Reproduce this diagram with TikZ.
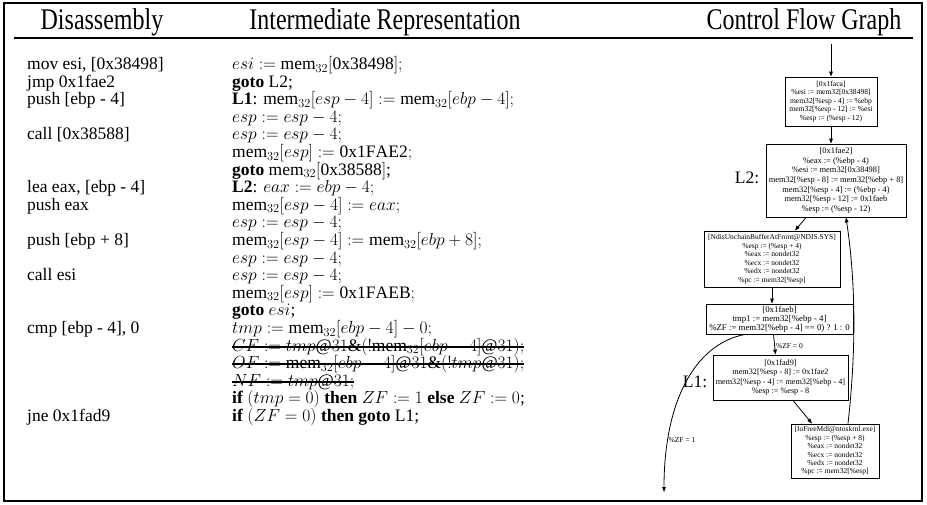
\RequirePackage{fix-cm}
\documentclass[tikz,border=0pt]{standalone}
\usepackage{graphicx}
\usepackage{fontspec}
\setmainfont{Liberation Serif}
\usetikzlibrary{arrows.meta,positioning}
\newcommand\bodyfont{\fontsize{17.5}{17.6}\selectfont}
\newcommand\headfont{\fontsize{24}{26}\selectfont}
\newcommand\memw{\mathrm{mem}_{32}}
\newcommand\headtext[1]{\scalebox{1}[1.25]{#1}}

\begin{document}
\begin{tikzpicture}[x=1pt,y=-1pt,
    hdr/.style={anchor=base,inner sep=0pt,font=\headfont},
    row/.style={anchor=base west,inner sep=0pt,text height=12.5pt,text depth=4pt,font=\bodyfont},
    strike/.style={line width=2.2pt},
    cfgbox/.style={draw,line width=0.9pt,align=center,inner sep=2pt},
    edge/.style={line width=0.8pt,-{Triangle[length=5pt,width=3.6pt]}},
    lbl/.style={inner sep=0pt,font=\bodyfont},
    elbl/.style={inner sep=1pt,font=\fontsize{7.5}{8}\selectfont}]
  \useasboundingbox (0,0) rectangle (927,504);
  % frame and header rule
  \draw[line width=1.2pt] (4,3) rectangle (922,501);
  \draw[line width=1.2pt] (14,38) -- (913,38);
  \node[hdr] (hdis) at (102,29) {\headtext{Disassembly}};
  \node[hdr] (hir) at (385,29) {\headtext{Intermediate Representation}};
  \node[hdr] (hcfg) at (804,29) {\headtext{Control Flow Graph}};

  % disassembly
  \node[row] (d1) at (27,69.5) {mov esi, [0x38498]};
  \node[row] (d2) at (27,87.1) {jmp 0x1fae2};
  \node[row] (d3) at (27,104.7) {push [ebp - 4]};
  \node[row] (d5) at (27,139.9) {call [0x38588]};
  \node[row] (d8) at (27,192.7) {lea eax, [ebp - 4]};
  \node[row] (d9) at (27,210.3) {push eax};
  \node[row] (d11) at (27,245.5) {push [ebp + 8]};
  \node[row] (d13) at (27,280.7) {call esi};
  \node[row] (d16) at (27,333.5) {cmp [ebp - 4], 0};
  \node[row] (d21) at (27,421.5) {jne 0x1fad9};

  % intermediate representation
  \node[row] (ir1) at (232,69.5) {$esi := \memw[\mathrm{0x38498}];$};
  \node[row] (ir2) at (232,87.1) {\textbf{goto} L2;};
  \node[row] (ir3) at (232,104.7) {\textbf{L1}: $\memw[esp-4] := \memw[ebp-4];$};
  \node[row] (ir4) at (232,122.3) {$esp := esp-4;$};
  \node[row] (ir5) at (232,139.9) {$esp := esp-4;$};
  \node[row] (ir6) at (232,157.5) {$\memw[esp] := \mathrm{0x1FAE2};$};
  \node[row] (ir7) at (232,175.1) {\textbf{goto} $\memw[\mathrm{0x38588}]$;};
  \node[row] (ir8) at (232,192.7) {\textbf{L2}: $eax := ebp-4;$};
  \node[row] (ir9) at (232,210.3) {$\memw[esp-4] := eax;$};
  \node[row] (ir10) at (232,227.9) {$esp := esp-4;$};
  \node[row] (ir11) at (232,245.5) {$\memw[esp-4] := \memw[ebp+8];$};
  \node[row] (ir12) at (232,263.1) {$esp := esp-4;$};
  \node[row] (ir13) at (232,280.7) {$esp := esp-4;$};
  \node[row] (ir14) at (232,298.3) {$\memw[esp] := \mathrm{0x1FAEB};$};
  \node[row] (ir15) at (232,315.9) {\textbf{goto} $esi$;};
  \node[row] (ir16) at (232,333.5) {$tmp := \memw[ebp-4]-0;$};
  \node[row] (ir17) at (232,351.1) {$CF := tmp@31\&(!\memw[ebp-4]@31);$};
  \node[row] (ir18) at (232,368.7) {$OF := \memw[ebp-4]@31\&(!tmp@31);$};
  \node[row] (ir19) at (232,386.3) {$NF := tmp@31;$};
  \node[row] (ir20) at (232,403.9) {\textbf{if} $(tmp=0)$ \textbf{then} $ZF := 1$ \textbf{else} $ZF := 0$;};
  \node[row] (ir21) at (232,421.5) {\textbf{if} $(ZF=0)$ \textbf{then goto} L1;};
  \draw[strike] ([yshift=4.5pt]ir17.base west) -- ([yshift=4.5pt]ir17.base east);
  \draw[strike] ([yshift=4.5pt]ir18.base west) -- ([yshift=4.5pt]ir18.base east);
  \draw[strike] ([yshift=4.5pt]ir19.base west) -- ([yshift=4.5pt]ir19.base east);

  % control flow graph
  \node[cfgbox,font=\fontsize{7.6}{8.6}\selectfont,minimum width=92pt,minimum height=49pt] (b1) at (831,101.5)
    {[0x1faca]\\\%esi := mem32[0x38498]\\mem32[\%esp - 4] := \%ebp\\mem32[\%esp - 12] := \%esi\\\%esp := (\%esp - 12)};
  \node[cfgbox,font=\fontsize{8.4}{9.6}\selectfont,minimum width=140pt,minimum height=73pt] (b2) at (836,180.5)
    {[0x1fae2]\\\%eax := (\%ebp - 4)\\\%esi := mem32[0x38498]\\mem32[\%esp - 8] := mem32[\%ebp + 8]\\mem32[\%esp - 4] := (\%ebp - 4)\\mem32[\%esp - 12] := 0x1faeb\\\%esp := (\%esp - 12)};
  \node[cfgbox,font=\fontsize{7.5}{8.5}\selectfont,minimum width=136pt,minimum height=56pt] (b3) at (772,259)
    {[NdisUnchainBufferAtFront@NDIS.SYS]\\\%esp := (\%esp + 4)\\\%eax := nondet32\\\%ecx := nondet32\\\%edx := nondet32\\\%pc := mem32[\%esp]};
  \node[cfgbox,font=\fontsize{8.8}{9}\selectfont,minimum width=147pt,minimum height=30pt] (b4) at (779.5,319)
    {[0x1faeb]\\tmp1 := mem32[\%ebp - 4]\\\%ZF := mem32[\%ebp - 4] == 0) ? 1 : 0};
  \node[cfgbox,font=\fontsize{8.2}{9.6}\selectfont,minimum width=135pt,minimum height=45pt] (b5) at (780.5,377.5)
    {[0x1fad9]\\mem32[\%esp - 8] := 0x1fae2\\mem32[\%esp - 4] := mem32[\%ebp - 4]\\\%esp := \%esp - 8};
  \node[cfgbox,font=\fontsize{7.5}{8.4}\selectfont,minimum width=88pt,minimum height=54pt] (b6) at (835,451)
    {[IoFreeMdl@ntoskrnl.exe]\\\%esp := (\%esp + 8)\\\%eax := nondet32\\\%ecx := nondet32\\\%edx := nondet32\\\%pc := mem32[\%esp]};
  \node[lbl] (l2) at (747,178) {L2:};
  \node[lbl] (l1) at (695,382) {L1:};
  \coordinate (entry) at (831,44);
  \coordinate (zfexit) at (664,492);

  \draw[edge] (entry) -- (b1.north);
  \draw[edge] (b1.south) -- (b1.south |- b2.north);
  \draw[edge] ([xshift=-30pt]b2.south) -- ([xshift=23pt]b3.north);
  \draw[edge] (b3.south) -- (b3.south |- b4.north);
  \draw[edge] ([xshift=-6pt]b4.south) -- node[elbl,pos=0.6,right] {\%ZF = 0} ([xshift=-5pt]b5.north);
  \draw[edge] ([xshift=-35pt]b4.south) .. controls +(-50,10) and +(0,-90) .. (zfexit);
  \node[elbl] (zf1) at (682,440) {\%ZF = 1};
  \draw[edge] ([xshift=12.5pt]b5.south) -- ([xshift=-23pt]b6.north);
  \draw[edge] ([xshift=13pt]b6.north) .. controls +(9,-80) and +(9,60) .. ([xshift=10pt]b2.south);
\end{tikzpicture}
\end{document}
